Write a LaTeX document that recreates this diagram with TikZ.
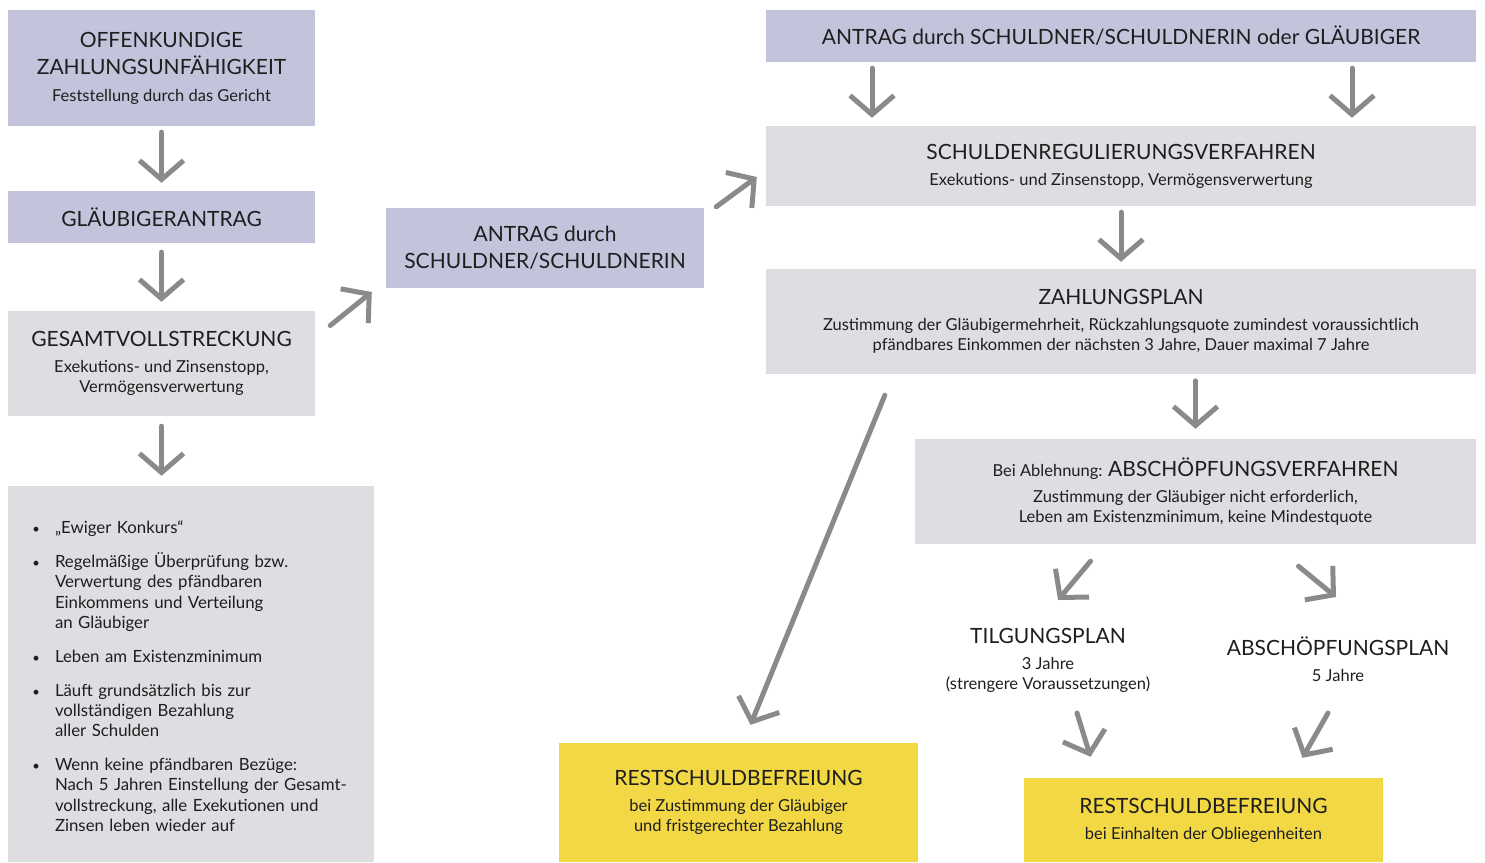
\documentclass[tikz,border=0pt]{standalone}
\usepackage{fontspec}
\setmainfont{Lato}
\usetikzlibrary{arrows.meta,calc}

\definecolor{lila}{HTML}{C4C3DC}
\definecolor{grau}{HTML}{DEDEE2}
\definecolor{gelb}{HTML}{F3D846}
\definecolor{pfeilgrau}{HTML}{8A8A8D}
\definecolor{schrift}{HTML}{1E1E1E}

\newcommand{\titel}{\fontsize{21}{20}\selectfont}
\newcommand{\klein}{\fontsize{16.5}{20}\selectfont}
\newcommand{\liste}{\fontsize{16.8}{20.3}\selectfont}

\tikzset{
  kasten/.style={minimum height=#1, inner sep=0pt, align=center, text=schrift, font=\klein},
  lilabox/.style={kasten=#1, fill=lila},
  graubox/.style={kasten=#1, fill=grau},
  gelbbox/.style={kasten=#1, fill=gelb},
  pfeil/.style={draw=pfeilgrau, line width=5pt, line cap=round,
    -{Straight Barb[length=19pt,width=44pt,line width=5pt]}},
}

\begin{document}
\begin{tikzpicture}[x=1pt,y=-1pt]
  \useasboundingbox (0,0) rectangle (1485,862);
  % linke Spalte
  \node[lilabox=116pt, minimum width=307pt] (off) at (161.5,68)
    {\titel OFFENKUNDIGE\\[7pt]\titel ZAHLUNGSUNFÄHIGKEIT\\[7pt]Feststellung durch das Gericht};
  \node[lilabox=52pt, minimum width=307pt] (glaeub) at (161.5,217) {\titel GLÄUBIGERANTRAG};
  \node[graubox=105pt, minimum width=307pt] (gesamt) at (161.5,363.5)
    {\titel GESAMTVOLLSTRECKUNG\\[6pt]Exekutions- und Zinsenstopp,\\Vermögensverwertung};
  \node[graubox=376pt, minimum width=366pt, text width=322pt, inner xsep=22pt, align=left] (liste) at (191,674)
    {\liste\setlength{\leftmargini}{25pt}\setlength{\labelsep}{15pt}%
     \renewcommand{\labelitemi}{\fontsize{13}{13}\selectfont\textbullet}%
     \begin{itemize}\setlength{\itemsep}{13.5pt}\setlength{\parskip}{0pt}
       \item „Ewiger Konkurs“
       \item Regelmäßige Überprüfung bzw.\newline Verwertung des pfändbaren\newline Einkommens und Verteilung\newline an Gläubiger
       \item Leben am Existenzminimum
       \item Läuft grundsätzlich bis zur\newline vollständigen Bezahlung\newline aller Schulden
       \item Wenn keine pfändbaren Bezüge:\newline Nach 5 Jahren Einstellung der Gesamt-\newline vollstreckung, alle Exekutionen und\newline Zinsen leben wieder auf
     \end{itemize}\vspace*{3pt}};
  \coordinate (listeoben) at (liste.north -| gesamt.south);
  % mittlere Spalte
  \node[lilabox=80pt, minimum width=318pt] (antragS) at (545,248)
    {\titel ANTRAG durch\\[7pt]\titel SCHULDNER/SCHULDNERIN};
  \node[gelbbox=119pt, minimum width=359pt] (rest1) at (738.5,802.5)
    {\titel RESTSCHULDBEFREIUNG\\[6pt]bei Zustimmung der Gläubiger\\und fristgerechter Bezahlung};
  % rechte Spalte
  \node[lilabox=52pt, minimum width=710pt] (antragT) at (1121,36)
    {\titel ANTRAG durch SCHULDNER/SCHULDNERIN oder GLÄUBIGER};
  \node[graubox=80pt, minimum width=710pt] (sr) at (1121,166)
    {\titel SCHULDENREGULIERUNGSVERFAHREN\\[6pt]Exekutions- und Zinsenstopp, Vermögensverwertung};
  \node[graubox=105pt, minimum width=710pt] (zp) at (1121,321.5)
    {\titel ZAHLUNGSPLAN\\[6pt]Zustimmung der Gläubigermehrheit, Rückzahlungsquote zumindest voraussichtlich\\
     pfändbares Einkommen der nächsten 3 Jahre, Dauer maximal 7 Jahre};
  \node[graubox=105pt, minimum width=561pt] (abs) at (1195.5,491.5)
    {Bei Ablehnung: \titel ABSCHÖPFUNGSVERFAHREN\\[6pt]Zustimmung der Gläubiger nicht erforderlich,\\
     Leben am Existenzminimum, keine Mindestquote};
  \node[kasten=0pt] (tilg) at (1048,660)
    {\titel TILGUNGSPLAN\\[6pt]3 Jahre\\(strengere Voraussetzungen)};
  \node[kasten=0pt] (absplan) at (1338,659)
    {\titel ABSCHÖPFUNGSPLAN\\[6pt]5 Jahre};
  \node[gelbbox=84pt, minimum width=359pt] (rest2) at (1203.5,820)
    {\titel RESTSCHULDBEFREIUNG\\[6pt]bei Einhalten der Obliegenheiten};
  % Pfeile
  \draw[pfeil] ([yshift=-6pt]off.south) -- ([yshift=8pt]glaeub.north);
  \draw[pfeil] ([yshift=-9pt]glaeub.south) -- ([yshift=9pt]gesamt.north);
  \draw[pfeil] ([yshift=-10pt]gesamt.south) -- ([yshift=10pt]listeoben);
  \draw[pfeil] ($(gesamt.east)+(15,-38)$) -- ($(antragS.west)+(-14,44)$);
  \draw[pfeil] ($(antragS.north east)+(12,-1)$) -- ($(sr.west)+(-9,11)$);
  \draw[pfeil] ($(antragT.south)+(-249,6)$) -- ($(sr.north)+(-249,-8)$);
  \draw[pfeil] ($(antragT.south)+(231,6)$) -- ($(sr.north)+(231,-8)$);
  \draw[pfeil] ([yshift=-6pt]sr.south) -- ([yshift=7pt]zp.north);
  \draw[pfeil] ($(abs.north)+(0,-58)$) -- ($(abs.north)+(0,-10)$);
  \draw[pfeil] ($(zp.south west)+(119,21)$) -- ($(rest1.north)+(12,-18)$);
  \draw[pfeil] ($(abs.south)+(-105,17)$) -- ($(tilg)+(10,-60)$);
  \draw[pfeil] ($(abs.south)+(103,22)$) -- ($(absplan)+(-2,-62)$);
  \draw[pfeil] ($(tilg)+(29,53)$) -- ($(rest2.north)+(-113,-21)$);
  \draw[pfeil] ($(absplan)+(-10,54)$) -- ($(rest2.north)+(99,-20)$);
\end{tikzpicture}
\end{document}
